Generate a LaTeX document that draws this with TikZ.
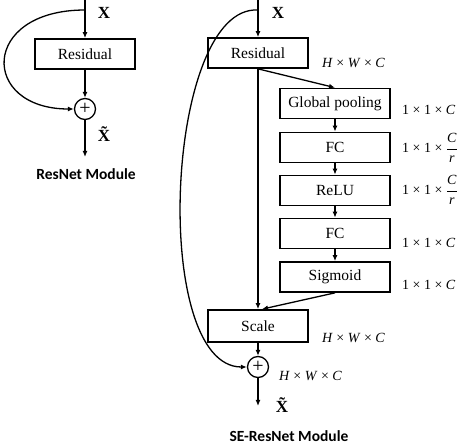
\documentclass[tikz,border=0pt]{standalone}
\usepackage{fontspec}
\setmainfont{Liberation Serif}
\newfontfamily\labfont{Carlito}
\usetikzlibrary{arrows.meta,calc}
\begin{document}
\begin{tikzpicture}[x=1pt,y=-1pt,
  box/.style={draw, line width=1.7pt, minimum width=100pt, minimum height=30pt, inner sep=0pt, font=\fontsize{15.5}{18}\selectfont},
  sbox/.style={box, minimum width=110pt, minimum height=30pt},
  sumnode/.style={draw, circle, line width=1.3pt, minimum size=21pt, inner sep=0pt, font=\fontsize{20}{20}\selectfont},
  arr/.style={line width=1.3pt, -{Latex[length=6pt,width=5pt]}},
  dim/.style={font=\fontsize{14}{16}\selectfont, inner sep=0pt, anchor=west},
  title/.style={font=\labfont\bfseries\fontsize{15.5}{18}\selectfont, inner sep=0pt},
  xl/.style={font=\bfseries\fontsize{17}{20}\selectfont, inner sep=0pt}]
\useasboundingbox (0,0) rectangle (459,444);

% ---------- ResNet module ----------
\coordinate (ltop) at (85,0);
\coordinate (lsplit) at (85,10);
\node[box] (lres) at (85,54) {Residual};
\node[sumnode] (lsum) at (85,109) {+};
\coordinate (lend) at (85,157);
\draw[arr] (ltop) -- (lres);
\draw[arr] (lres) -- (lsum);
\draw[arr] (lsum) -- (lend);
\draw[arr] (lsplit) .. controls (-20,10) and (-20,109) .. (lsum.west);
\node[xl] (lx) at (104,13) {X};
\node[xl] (lxt) at (104,134) {\~{X}};
\node[title] (lt) at (86,174) {ResNet Module};

% ---------- SE-ResNet module ----------
\coordinate (rtop) at (258,0);
\coordinate (rsplit) at (258,10);
\node[box] (rres) at (258,53) {Residual};
\node[sbox] (gp) at (335,103.5) {Global pooling};
\node[sbox] (fc1) at (335,147.5) {FC};
\node[sbox] (relu) at (335,190.5) {ReLU};
\node[sbox] (fc2) at (335,233.5) {FC};
\node[sbox] (sig) at (335,277) {Sigmoid};
\node[box, minimum height=32pt] (scale) at (258,326) {Scale};
\node[sumnode] (rsum) at (258,367) {+};
\coordinate (rend) at (258,406);
\coordinate (scin) at ($(scale.north)+(4,0)$);

\draw[arr] (rtop) -- (rres);
\draw[arr] (rres.south) -- (gp.north);
\draw[arr] (gp) -- (fc1);
\draw[arr] (fc1) -- (relu);
\draw[arr] (relu) -- (fc2);
\draw[arr] (fc2) -- (sig);
\draw[arr] (sig.south) -- (scin);
\draw[arr] (rres.south) -- (scale.north);
\draw[arr] (scale) -- (rsum);
\draw[arr] (rsum) -- (rend);
\draw[arr] (rsplit) .. controls (165,5) and (150,367) .. (rsum.west);

\node[xl] (rx) at (278,13) {X};
\node[xl] (rxt) at (282,405) {\~{X}};

\node[dim] (d0) at (322,63) {\textit{H} × \textit{W} × \textit{C}};
\node[dim] (d1) at (402,110) {1 × 1 × \textit{C}};
\node[dim] (d2) at (402,148) {1 × 1 × $\displaystyle\frac{\textit{C}}{\textit{r}}$};
\node[dim] (d3) at (402,190) {1 × 1 × $\displaystyle\frac{\textit{C}}{\textit{r}}$};
\node[dim] (d4) at (402,243) {1 × 1 × \textit{C}};
\node[dim] (d5) at (402,285) {1 × 1 × \textit{C}};
\node[dim] (d6) at (322,338) {\textit{H} × \textit{W} × \textit{C}};
\node[dim] (d7) at (279,376) {\textit{H} × \textit{W} × \textit{C}};

\node[title] (rt) at (289,436) {SE-ResNet Module};
\end{tikzpicture}
\end{document}
